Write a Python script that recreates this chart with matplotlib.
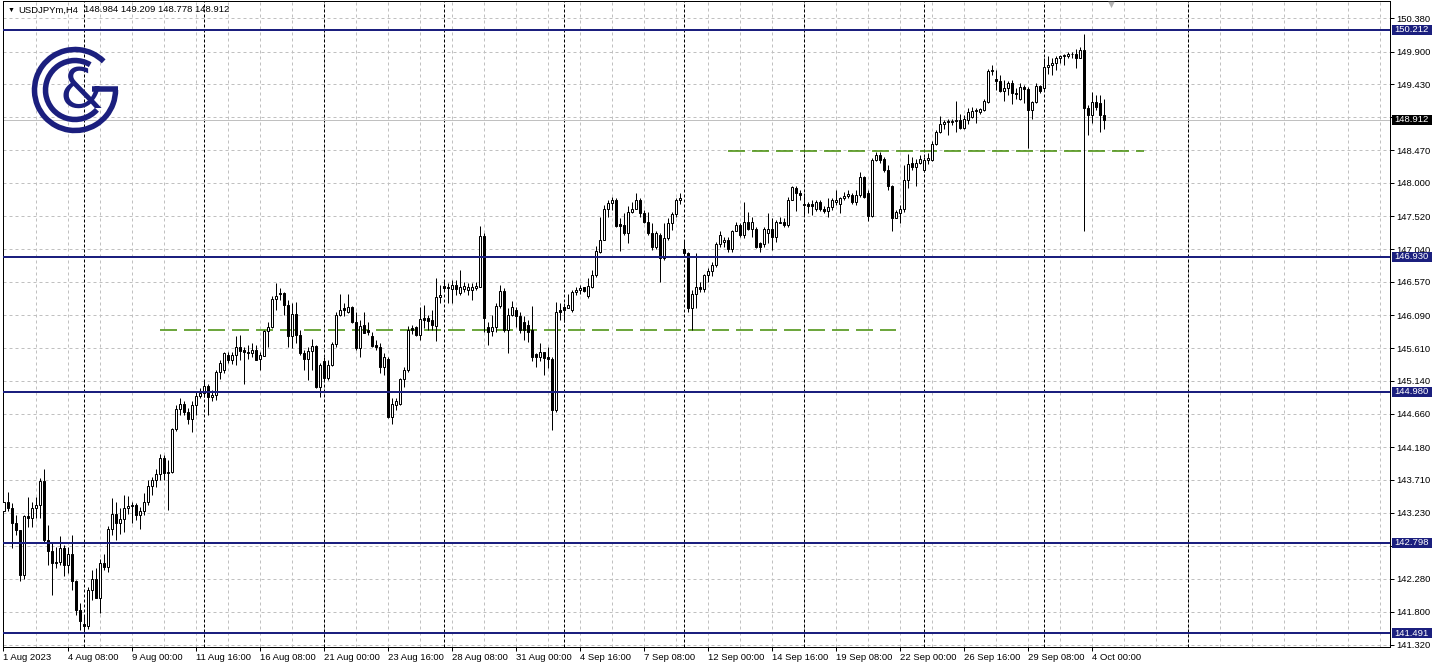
import numpy as np
import matplotlib.pyplot as plt
import matplotlib.transforms as transforms
from matplotlib.patches import Arc, Rectangle

plt.rcParams['font.family'] = ['Liberation Sans', 'DejaVu Sans']
plt.rcParams['lines.scale_dashes'] = False

W, H = 1437, 669
PX = 0.72  # one pixel in points at dpi 100

# USDJPYm H4 candles, first bar 1 Aug 2023 16:00
opens = [
    143.25, 143.38, 143.30, 143.08, 142.98, 142.33, 143.18, 143.15, 143.30, 143.34,
    143.69, 142.84, 142.68, 142.50, 142.52, 142.72, 142.48, 142.64, 142.24, 141.82,
    141.62, 141.60, 142.12, 142.28, 142.00, 142.50, 142.45, 142.99, 143.21, 143.08,
    143.14, 143.30, 143.33, 143.34, 143.20, 143.26, 143.38, 143.62, 143.70, 143.79,
    144.03, 143.80, 143.82, 144.44, 144.73, 144.81, 144.69, 144.58, 144.79, 144.92,
    144.97, 145.06, 144.90, 144.94, 145.27, 145.30, 145.51, 145.44, 145.51, 145.63,
    145.58, 145.56, 145.54, 145.59, 145.46, 145.50, 145.86, 145.91, 146.32, 146.41,
    146.41, 146.23, 145.78, 146.11, 145.80, 145.54, 145.46, 145.57, 145.64, 145.05,
    145.42, 145.18, 145.37, 145.67, 146.09, 146.19, 146.13, 146.20, 145.99, 145.61,
    145.94, 145.87, 145.78, 145.66, 145.63, 145.34, 145.46, 144.62, 144.79, 144.81,
    145.16, 145.30, 145.90, 145.91, 145.80, 146.04, 146.04, 146.02, 145.93, 146.35,
    146.51, 146.50, 146.46, 146.52, 146.41, 146.47, 146.45, 146.45, 146.48, 146.50,
    147.23, 145.92, 145.86, 145.92, 146.22, 146.44, 145.87, 146.09, 146.16, 146.07,
    145.99, 145.94, 145.87, 145.53, 145.49, 145.55, 145.49, 145.46, 144.72, 146.17,
    146.20, 146.19, 146.16, 146.42, 146.45, 146.49, 146.36, 146.50, 146.67, 147.00,
    147.18, 147.63, 147.71, 147.76, 147.40, 147.39, 147.27, 147.58, 147.63, 147.75,
    147.56, 147.44, 147.27, 147.08, 147.25, 146.91, 147.21, 147.42, 147.55, 147.76,
    147.04, 146.98, 146.19, 146.40, 146.50, 146.46, 146.67, 146.72, 146.82, 147.11,
    147.15, 147.18, 147.05, 147.30, 147.39, 147.25, 147.44, 147.34, 147.34, 147.13,
    147.12, 147.27, 147.34, 147.22, 147.42, 147.44, 147.39, 147.76, 147.93, 147.86,
    147.68, 147.70, 147.70, 147.62, 147.73, 147.63, 147.60, 147.65, 147.73, 147.70,
    147.78, 147.81, 147.83, 147.73, 147.83, 148.08, 147.85, 147.52, 148.33, 148.40,
    148.35, 148.18, 147.95, 147.50, 147.56, 147.62, 148.04, 148.29, 148.23, 148.29,
    148.19, 148.33, 148.33, 148.57, 148.73, 148.85, 148.88, 148.88, 148.89, 148.91,
    148.79, 148.91, 148.96, 149.04, 149.02, 149.06, 149.17, 149.62, 149.50, 149.47,
    149.33, 149.37, 149.45, 149.30, 149.22, 149.39, 149.36, 149.05, 149.17, 149.40,
    149.37, 149.67, 149.71, 149.73, 149.81, 149.83, 149.83, 149.86, 149.87, 149.81,
    149.92, 149.09, 148.98, 149.17, 149.15, 148.984,
]
highs = [
    143.46, 143.53, 143.37, 143.20, 142.98, 143.20, 143.46, 143.39, 143.46, 143.73,
    143.87, 143.05, 142.79, 142.74, 142.89, 142.76, 142.74, 142.91, 142.26, 141.92,
    141.75, 142.16, 142.40, 142.43, 142.57, 142.64, 143.04, 143.44, 143.39, 143.30,
    143.49, 143.48, 143.39, 143.37, 143.32, 143.51, 143.71, 143.75, 143.87, 144.08,
    144.07, 144.00, 144.46, 144.79, 144.89, 144.84, 144.74, 144.84, 144.98, 145.03,
    145.15, 145.10, 145.00, 145.30, 145.44, 145.56, 145.56, 145.55, 145.78, 145.80,
    145.63, 145.66, 145.68, 145.66, 145.56, 145.87, 145.99, 146.37, 146.55, 146.48,
    146.43, 146.31, 146.26, 146.28, 145.87, 145.58, 145.63, 145.75, 145.66, 145.39,
    145.49, 145.44, 145.70, 146.14, 146.39, 146.26, 146.39, 146.22, 146.14, 146.02,
    146.14, 145.99, 145.85, 145.73, 145.68, 145.54, 145.49, 144.89, 144.89, 145.18,
    145.34, 145.93, 145.94, 145.93, 146.20, 146.23, 146.09, 146.16, 146.62, 146.52,
    146.60, 146.55, 146.60, 146.60, 146.74, 146.57, 146.55, 146.55, 146.57, 147.38,
    147.27, 145.99, 146.09, 146.26, 146.52, 146.48, 146.19, 146.30, 146.21, 146.14,
    146.07, 146.02, 146.22, 145.54, 145.69, 145.56, 145.63, 145.49, 146.28, 146.26,
    146.26, 146.40, 146.45, 146.50, 146.52, 146.50, 146.62, 146.74, 147.09, 147.51,
    147.68, 147.75, 147.80, 147.78, 147.49, 147.57, 147.66, 147.73, 147.86, 147.78,
    147.61, 147.58, 147.42, 147.30, 147.27, 147.42, 147.49, 147.58, 147.78, 147.86,
    147.17, 147.00, 146.45, 146.98, 146.57, 146.69, 146.77, 146.86, 147.15, 147.30,
    147.22, 147.22, 147.32, 147.44, 147.42, 147.73, 147.58, 147.51, 147.37, 147.15,
    147.37, 147.56, 147.49, 147.46, 147.51, 147.49, 147.80, 147.95, 147.95, 147.90,
    147.86, 147.73, 147.75, 147.75, 147.75, 147.66, 147.78, 147.78, 147.90, 147.80,
    147.87, 147.90, 147.85, 147.90, 148.16, 148.10, 147.90, 148.36, 148.45, 148.45,
    148.38, 148.26, 147.97, 147.61, 147.68, 148.26, 148.42, 148.38, 148.35, 148.40,
    148.38, 148.43, 148.60, 148.76, 148.97, 148.91, 148.92, 148.93, 149.18, 148.99,
    148.98, 149.08, 149.10, 149.08, 149.09, 149.21, 149.65, 149.71, 149.63, 149.56,
    149.49, 149.47, 149.49, 149.37, 149.44, 149.42, 149.39, 149.19, 149.44, 149.42,
    149.80, 149.83, 149.80, 149.83, 149.85, 149.87, 149.90, 149.90, 149.94, 149.97,
    150.16, 149.13, 149.32, 149.27, 149.27, 149.209,
]
lows = [
    142.86, 143.25, 142.72, 142.91, 142.24, 142.28, 143.03, 143.03, 143.15, 143.15,
    142.81, 142.48, 142.04, 142.43, 142.48, 142.31, 142.36, 142.12, 141.75, 141.54,
    141.53, 141.55, 141.97, 142.00, 141.78, 142.40, 142.38, 142.91, 142.84, 142.93,
    142.96, 143.22, 143.08, 143.13, 143.00, 143.20, 143.34, 143.49, 143.61, 143.71,
    143.71, 143.27, 143.81, 144.42, 144.65, 144.65, 144.52, 144.40, 144.65, 144.89,
    144.90, 144.64, 144.85, 144.86, 145.17, 145.25, 145.40, 145.38, 145.37, 145.44,
    145.10, 145.46, 145.49, 145.44, 145.30, 145.50, 145.63, 145.90, 146.16, 146.31,
    146.09, 145.63, 145.61, 145.68, 145.51, 145.30, 145.15, 145.30, 145.03, 144.91,
    145.13, 145.15, 145.36, 145.63, 146.07, 146.07, 146.12, 145.98, 145.58, 145.49,
    145.83, 145.80, 145.63, 145.59, 145.25, 145.22, 144.60, 144.52, 144.72, 144.79,
    145.05, 145.27, 145.82, 145.78, 145.73, 145.90, 145.87, 145.87, 145.71, 146.26,
    146.45, 146.26, 146.26, 146.38, 146.38, 146.43, 146.38, 146.31, 146.45, 146.49,
    145.85, 145.66, 145.78, 145.85, 146.19, 145.85, 145.54, 146.07, 145.92, 145.83,
    145.73, 145.70, 145.42, 145.34, 145.42, 145.22, 145.32, 144.43, 144.69, 146.02,
    145.99, 146.19, 146.14, 146.38, 146.40, 146.43, 146.33, 146.48, 146.64, 146.99,
    147.17, 147.51, 147.61, 147.37, 147.01, 147.25, 147.13, 147.56, 147.62, 147.51,
    147.42, 147.25, 147.03, 147.05, 146.57, 146.89, 147.17, 147.32, 147.51, 147.70,
    146.93, 146.14, 145.87, 146.19, 146.43, 146.43, 146.57, 146.65, 146.79, 147.07,
    147.08, 147.00, 147.00, 147.30, 147.22, 147.20, 147.32, 147.22, 147.06, 147.00,
    147.08, 147.13, 147.03, 147.15, 147.42, 147.37, 147.37, 147.75, 147.59, 147.75,
    147.54, 147.56, 147.54, 147.59, 147.59, 147.56, 147.51, 147.61, 147.68, 147.57,
    147.75, 147.78, 147.70, 147.68, 147.80, 147.78, 147.45, 147.51, 148.31, 148.29,
    148.16, 147.90, 147.31, 147.49, 147.42, 147.58, 147.92, 148.19, 147.95, 148.27,
    148.16, 148.28, 148.31, 148.55, 148.72, 148.78, 148.69, 148.84, 148.74, 148.78,
    148.78, 148.85, 148.94, 148.86, 148.99, 149.04, 149.16, 149.56, 149.34, 149.32,
    149.18, 149.27, 149.14, 149.21, 149.20, 149.15, 148.51, 148.93, 149.16, 149.30,
    149.35, 149.58, 149.56, 149.63, 149.73, 149.70, 149.80, 149.80, 149.66, 149.80,
    147.30, 148.69, 148.86, 149.05, 148.73, 148.778,
]
closes = [
    143.38, 143.30, 143.08, 142.98, 142.33, 143.18, 143.15, 143.30, 143.34, 143.69,
    142.84, 142.68, 142.50, 142.52, 142.72, 142.48, 142.64, 142.24, 141.82, 141.66,
    141.60, 142.12, 142.28, 142.00, 142.50, 142.45, 142.99, 143.21, 143.08, 143.14,
    143.30, 143.33, 143.34, 143.20, 143.26, 143.38, 143.62, 143.70, 143.79, 144.03,
    143.80, 143.82, 144.44, 144.73, 144.81, 144.69, 144.58, 144.79, 144.92, 144.97,
    145.06, 144.90, 144.94, 145.27, 145.40, 145.54, 145.44, 145.51, 145.63, 145.57,
    145.55, 145.54, 145.59, 145.44, 145.51, 145.86, 145.91, 146.32, 146.37, 146.39,
    146.23, 145.78, 146.11, 145.80, 145.54, 145.46, 145.57, 145.64, 145.05, 145.37,
    145.18, 145.37, 145.67, 146.09, 146.17, 146.16, 146.20, 145.99, 145.61, 145.93,
    145.83, 145.85, 145.64, 145.63, 145.34, 145.49, 144.62, 144.81, 144.84, 145.16,
    145.30, 145.88, 145.87, 145.80, 146.03, 146.02, 146.00, 145.95, 146.35, 146.38,
    146.48, 146.48, 146.53, 146.46, 146.50, 146.51, 146.50, 146.49, 146.51, 147.23,
    146.04, 145.85, 145.92, 146.22, 146.44, 145.87, 146.09, 146.20, 146.07, 145.87,
    145.87, 145.85, 145.49, 145.49, 145.55, 145.47, 145.46, 144.72, 146.14, 146.14,
    146.16, 146.23, 146.42, 146.45, 146.48, 146.44, 146.51, 146.67, 147.01, 147.18,
    147.63, 147.71, 147.76, 147.38, 147.38, 147.27, 147.58, 147.63, 147.75, 147.56,
    147.44, 147.27, 147.08, 147.27, 146.91, 147.21, 147.42, 147.55, 147.76, 147.78,
    146.98, 146.19, 146.40, 146.50, 146.46, 146.67, 146.72, 146.82, 147.11, 147.24,
    147.17, 147.05, 147.30, 147.39, 147.25, 147.44, 147.34, 147.44, 147.08, 147.08,
    147.34, 147.34, 147.22, 147.44, 147.44, 147.39, 147.76, 147.94, 147.85, 147.83,
    147.70, 147.67, 147.66, 147.73, 147.62, 147.60, 147.65, 147.75, 147.76, 147.78,
    147.81, 147.84, 147.73, 147.83, 148.08, 147.80, 147.52, 148.33, 148.40, 148.33,
    148.18, 147.95, 147.50, 147.58, 147.62, 148.04, 148.28, 148.23, 148.29, 148.34,
    148.33, 148.36, 148.57, 148.74, 148.85, 148.88, 148.89, 148.90, 148.91, 148.79,
    148.92, 149.03, 149.04, 149.05, 149.07, 149.19, 149.62, 149.63, 149.47, 149.33,
    149.37, 149.45, 149.30, 149.28, 149.38, 149.36, 149.05, 149.17, 149.40, 149.33,
    149.67, 149.71, 149.74, 149.81, 149.83, 149.85, 149.87, 149.87, 149.81, 149.92,
    149.09, 148.98, 149.17, 149.10, 148.98, 148.912,
]

time_labels = ['1 Aug 2023', '4 Aug 08:00', '9 Aug 00:00', '11 Aug 16:00', '16 Aug 08:00',
               '21 Aug 00:00', '23 Aug 16:00', '28 Aug 08:00', '31 Aug 00:00', '4 Sep 16:00',
               '7 Sep 08:00', '12 Sep 00:00', '14 Sep 16:00', '19 Sep 08:00', '22 Sep 00:00',
               '26 Sep 16:00', '29 Sep 08:00', '4 Oct 00:00']
time_label_bars = [0, 16, 32, 48, 64, 80, 96, 112, 128, 144, 160, 176, 192, 208, 224, 240, 256, 272]
# period separators (the last one sits in the empty future area)
week_start_bars = [20, 50, 80, 110, 140, 170, 200, 230, 260, 296]

price_ticks = [150.380, 149.900, 149.430, 148.950, 148.470, 148.000, 147.520, 147.040,
               146.570, 146.090, 145.610, 145.140, 144.660, 144.180, 143.710, 143.230,
               142.750, 142.280, 141.800, 141.320]
hidden_ticks = [148.950, 142.750]  # covered by the price boxes

levels = [150.212, 146.930, 144.980, 142.798, 141.491]
last_price = 148.912
# dashed support lines: (start bar, end bar, price)
support_lines = [(39, 223, 145.87), (181, 285, 148.46)]

symbol = 'USDJPYm,H4'
quote = '148.984 149.209 148.778 148.912'

NAVY = '#1b1f7e'
GREEN = '#3f8a00'
GRID = '#c0c0c0'

o, h, l, c = map(np.array, (opens, highs, lows, closes))
x = np.arange(len(o))

fig = plt.figure(figsize=(W / 100, H / 100), dpi=100)
ax = fig.add_axes([3 / W, 22 / H, 1387 / W, 646 / H])
ax.set_xlim(-0.125, 346.625)
ax.set_ylim(141.2907, 150.6302)

# grid
for gx in range(0, 347, 8):
    ax.axvline(gx, color=GRID, lw=PX, dashes=(3 * PX, 3 * PX), zorder=0)
for p in price_ticks:
    ax.axhline(p, color=GRID, lw=PX, dashes=(3 * PX, 3 * PX), zorder=0)
for wx in week_start_bars:
    ax.axvline(wx, color='black', lw=PX, dashes=(3 * PX, 2 * PX), zorder=1)

# current price line and levels
ax.axhline(last_price, color=GRID, lw=PX, zorder=1)
for p in levels:
    ax.axhline(p, color=NAVY, lw=2 * PX, zorder=5)
for x0, x1, p in support_lines:
    ax.plot([x0, x1], [p, p], color=GREEN, lw=1.5 * PX, dashes=(17 * PX, 7 * PX),
            solid_capstyle='butt', dash_capstyle='butt', zorder=2.5)

# candles
ax.vlines(x, l, h, color='black', lw=PX, zorder=3)
up = c >= o
ax.bar(x[up], (c - o)[up], bottom=o[up], width=0.5, facecolor='white',
       edgecolor='black', lw=PX, zorder=4)
ax.bar(x[~up], (o - c)[~up], bottom=c[~up], width=0.5, facecolor='black',
       edgecolor='black', lw=PX, zorder=4)

# axes
for s in ax.spines.values():
    s.set_linewidth(PX)
ax.yaxis.tick_right()
ax.set_yticks(price_ticks)
ax.set_yticklabels(['' if p in hidden_ticks else f'{p:.3f}' for p in price_ticks])
ax.tick_params(axis='y', length=4 * PX, width=PX, pad=2 * PX, labelsize=6.8)
ax.set_xticks(time_label_bars)
ax.set_xticklabels(time_labels)
ax.tick_params(axis='x', length=4 * PX, width=PX, pad=1.5, labelsize=6.8)
for lbl in ax.get_xticklabels():
    lbl.set_horizontalalignment('left')

# price boxes on the right scale
box_tr = transforms.blended_transform_factory(fig.dpi_scale_trans, ax.transData)
box_h = 10 / 69.17
for p, fc in [(v, NAVY) for v in levels] + [(last_price, 'black')]:
    ax.add_patch(Rectangle((13.92, p - box_h / 2), 0.40, box_h, transform=box_tr,
                           facecolor=fc, edgecolor='none', clip_on=False, zorder=10))
    ax.text(13.945, p, f'{p:.3f}', transform=box_tr, ha='left', va='center',
            color='white', fontsize=6.8, zorder=11, clip_on=False)

# header
fig.text(8 / W, 1 - 10 / H, '▼', fontsize=5, va='center', ha='left')
fig.text(18 / W, 1 - 10 / H, symbol, fontsize=6.8, va='center', ha='left')
fig.text(84 / W, 1 - 10 / H, quote, fontsize=6.8, va='center', ha='left')
fig.text(1111 / W, 1 - 5 / H, '▼', fontsize=8, va='center', ha='center', color='#b4b4b4')

# logo
lax = fig.add_axes([20 / W, (H - 145) / H, 110 / W, 110 / H])
lax.set_xlim(20, 130)
lax.set_ylim(H - 145, H - 35)
lax.axis('off')
cx, cy = 75, H - 90
lax.add_patch(Arc((cx, cy), 81, 81, theta1=45, theta2=360, lw=5.5 * PX, color=NAVY))
lax.add_patch(Arc((cx, cy), 59, 59, theta1=59, theta2=318, lw=5.5 * PX, color=NAVY))
lax.plot([92, 118.5], [cy + 1, cy + 1], lw=5.5 * PX, color=NAVY, solid_capstyle='butt')
lax.text(81, cy - 2, '&', fontsize=40, ha='center', va='center', color=NAVY,
         family='DejaVu Sans')

fig.savefig('out.png', dpi=100)
